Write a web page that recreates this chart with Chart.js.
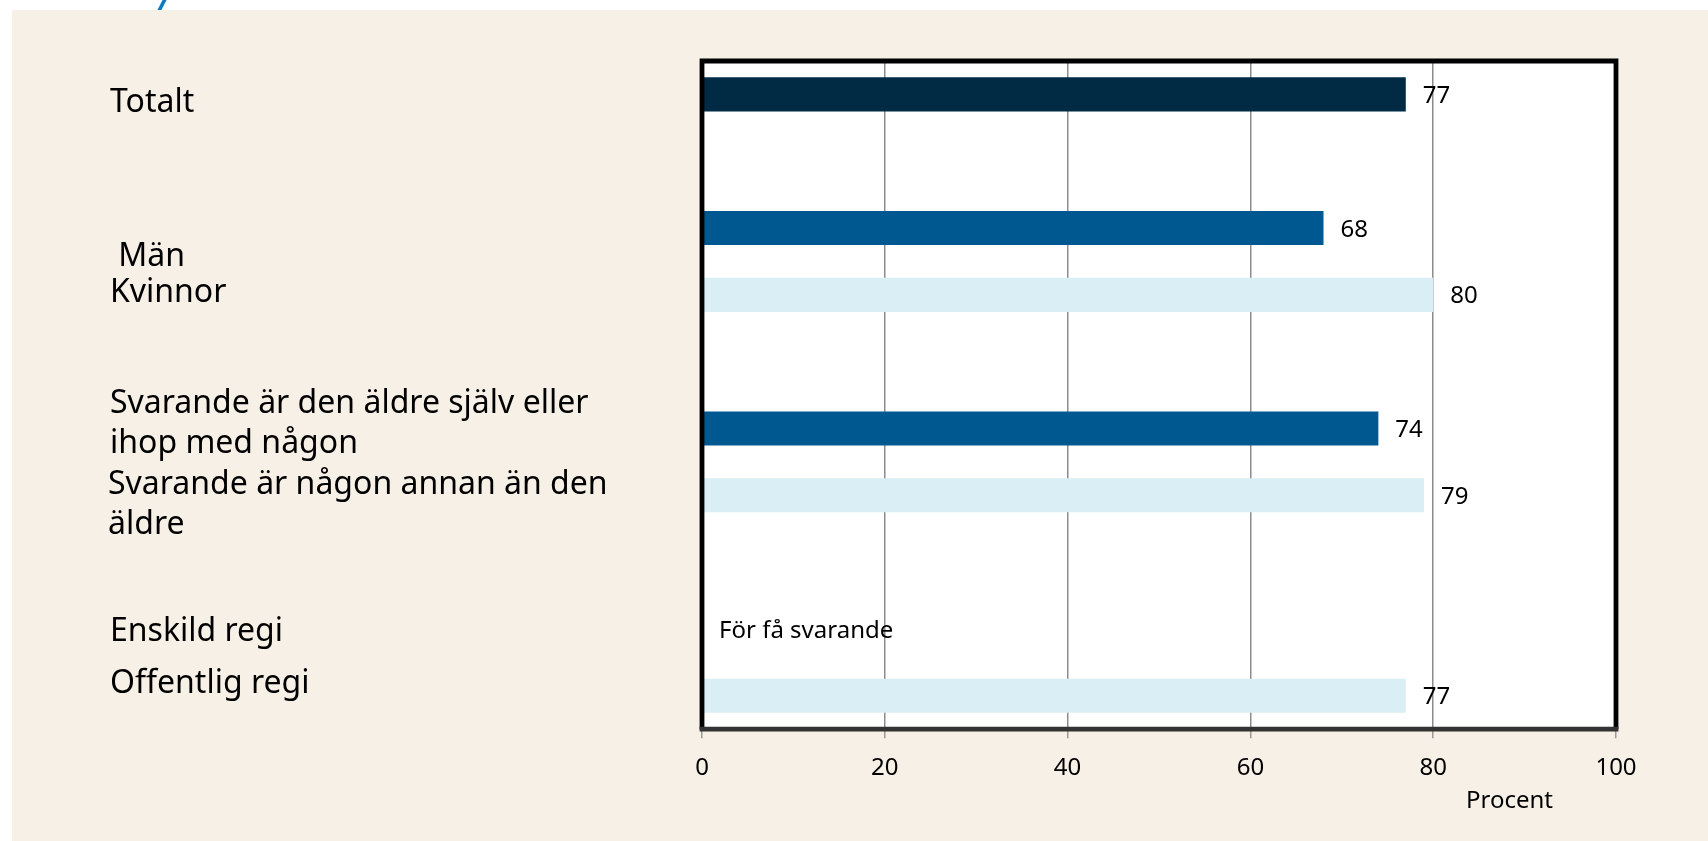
<!DOCTYPE html>
<html lang="sv">
<head>
<meta charset="utf-8">
<title>Andel svarande</title>
<script src="https://cdn.jsdelivr.net/npm/chart.js@4"></script>
<style>
  html, body { margin: 0; padding: 0; background: #fff; width: 1708px; height: 841px; overflow: hidden; }
  #panel { position: absolute; left: 12px; top: 10px; right: 0; bottom: 0; background: #f7f0e7; }
  #slash { position: absolute; left: 160px; top: 0; width: 4px; height: 10px; background: #0a7bc2; transform: skewX(-27deg); }
  #wrap { position: absolute; left: 0; top: 0; width: 1708px; height: 841px; }
</style>
</head>
<body>
<div id="slash"></div>
<div id="panel"></div>
<div id="wrap"><canvas id="chart"></canvas></div>
<script>
// Kategorier (tomma rader = mellanrum mellan grupperna)
const categories = [
    ['Totalt'],
    [''],
    [' Män'],
    ['Kvinnor'],
    [''],
    ['Svarande är den äldre själv eller', 'ihop med någon'],
    ['Svarande är någon annan än den', 'äldre'],
    [''],
    ['Enskild regi'],
    ['Offentlig regi']
];

const totalt = [77, null, null, null, null, null, null, null, null, null];
const grupp1 = [null, null, 68, null, null, 74, null, null, null, null];
const grupp2 = [null, null, null, 80, null, null, 79, null, null, 77];
const notes  = [null, null, null, null, null, null, null, null, 'För få svarande', null];

const xMin = 0;
const xMax = 100;
const xStep = 20;
const xTitle = 'Procent';

const FONT = "'Noto Sans', 'Open Sans', sans-serif";

// Etiketterna till vänster ligger inte exakt mitt för staplarna i originalet
const labelBaseline = [18, 0, 38, 7, 0, -16, -1, 0, 12, -3];
const labelIndent = [0, 0, 0, 0, 0, 0, -2, 0, 0, 0];

const plotBackground = {
    id: 'plotBackground',
    beforeDraw(chart) {
        const { ctx, chartArea: a } = chart;
        ctx.save();
        ctx.fillStyle = '#fff';
        ctx.fillRect(a.left, a.top, a.right - a.left, a.bottom - a.top);
        ctx.restore();
    }
};

const leftLabels = {
    id: 'leftLabels',
    afterDraw(chart) {
        const ctx = chart.ctx;
        const y = chart.scales.y;
        ctx.save();
        ctx.font = '32px ' + FONT;
        ctx.fillStyle = '#000';
        ctx.textAlign = 'left';
        ctx.textBaseline = 'alphabetic';
        categories.forEach((lines, i) => {
            const cy = y.getPixelForValue(i) + labelBaseline[i];
            lines.forEach((line, j) => {
                ctx.fillText(line, 110 + labelIndent[i], cy + j * 40);
            });
        });
        ctx.restore();
    }
};

const frame = {
    id: 'frame',
    afterDatasetsDraw(chart) {
        const { ctx, chartArea: a } = chart;
        ctx.save();
        ctx.lineWidth = 4.8;
        ctx.strokeStyle = '#000';
        ctx.beginPath();
        ctx.moveTo(a.left, a.bottom);
        ctx.lineTo(a.left, a.top);
        ctx.lineTo(a.right, a.top);
        ctx.lineTo(a.right, a.bottom);
        ctx.stroke();
        ctx.strokeStyle = '#333';
        ctx.beginPath();
        ctx.moveTo(a.left - 2.4, a.bottom);
        ctx.lineTo(a.right + 2.4, a.bottom);
        ctx.stroke();
        ctx.restore();
    }
};

const valueLabels = {
    id: 'valueLabels',
    afterDraw(chart) {
        const ctx = chart.ctx;
        const a = chart.chartArea;
        const y = chart.scales.y;
        ctx.save();
        ctx.font = '24px ' + FONT;
        ctx.fillStyle = '#000';
        ctx.textAlign = 'left';
        ctx.textBaseline = 'alphabetic';
        chart.data.datasets.forEach((ds, di) => {
            chart.getDatasetMeta(di).data.forEach((bar, i) => {
                if (ds.data[i] == null) return;
                ctx.fillText(String(ds.data[i]), bar.x + 17, bar.y + 8.5);
            });
        });
        notes.forEach((note, i) => {
            if (!note) return;
            ctx.fillText(note, a.left + 17, y.getPixelForValue(i) + 9);
        });
        ctx.fillText(xTitle, a.right - 150, a.bottom + 79);
        ctx.restore();
    }
};

new Chart(document.getElementById('chart'), {
    type: 'bar',
    data: {
        labels: categories.map(c => c.join(' ')),
        datasets: [
            { label: 'Totalt', data: totalt, backgroundColor: '#012b45' },
            { label: 'Grupp 1', data: grupp1, backgroundColor: '#005891' },
            { label: 'Grupp 2', data: grupp2, backgroundColor: '#daeef5' }
        ]
    },
    options: {
        indexAxis: 'y',
        responsive: true,
        maintainAspectRatio: false,
        animation: false,
        layout: { padding: { left: 702, top: 61, right: 92, bottom: 42 } },
        datasets: {
            bar: { grouped: false, categoryPercentage: 1, barPercentage: 0.51 }
        },
        scales: {
            x: {
                min: xMin,
                max: xMax,
                ticks: {
                    stepSize: xStep,
                    padding: 16,
                    color: '#000',
                    font: { family: FONT, size: 24 }
                },
                grid: {
                    color: '#8c8c8c',
                    lineWidth: 1.5,
                    tickLength: 9,
                    tickColor: '#9a9a9a'
                },
                border: { display: false }
            },
            y: {
                display: false
            }
        },
        plugins: {
            legend: { display: false },
            tooltip: { enabled: false }
        }
    },
    plugins: [plotBackground, frame, valueLabels, leftLabels]
});
</script>
</body>
</html>
